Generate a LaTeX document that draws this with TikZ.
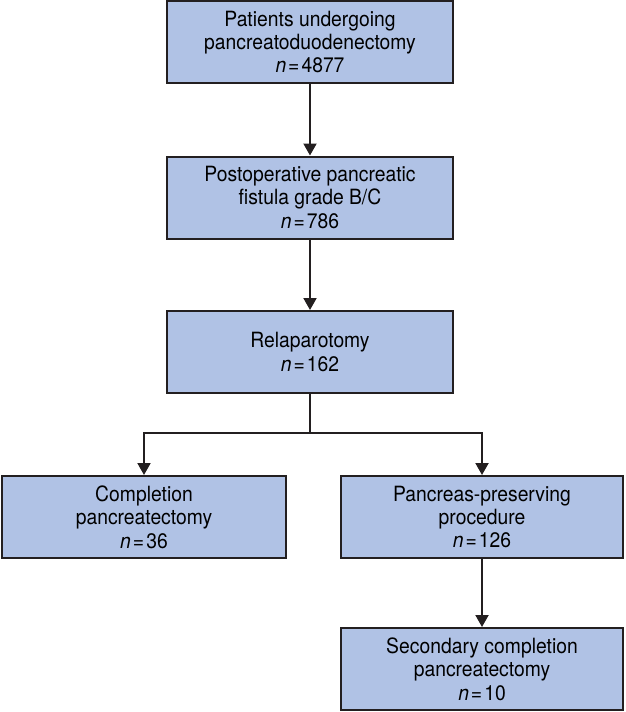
\documentclass[tikz,border=0pt]{standalone}
\usepackage{fontspec}
\setmainfont{TeX Gyre Heros}[FakeStretch=0.92]
\usetikzlibrary{arrows.meta}
\definecolor{boxfill}{RGB}{176,194,229}
\definecolor{boxline}{RGB}{35,31,32}
\tikzset{
  flowbox/.style={draw=boxline, fill=boxfill, line width=1pt, align=center,
    minimum width=143pt, minimum height=41pt, inner sep=0pt,
    font=\fontsize{10.5}{11.7}\selectfont},
  flowline/.style={draw=boxline, line width=1pt},
  >={Triangle[length=6pt,width=6.5pt]}
}
\newcommand{\nval}[1]{\textit{n}\kern1pt=\kern1pt#1}

\begin{document}
\begin{tikzpicture}[x=0.5pt,y=-0.5pt]
	\useasboundingbox (0,0) rectangle (626,712);
	% main column
	\node[flowbox] (patients) at (310,42) {Patients undergoing\\pancreatoduodenectomy\\\nval{4877}};
	\node[flowbox] (fistula) at (310,197.5) {Postoperative pancreatic\\fistula grade B/C\\\nval{786}};
	\node[flowbox] (relap) at (310,352) {Relaparotomy\\\nval{162}};
	% branches
	\node[flowbox, minimum width=142pt] (completion) at (144,517) {Completion\\pancreatectomy\\\nval{36}};
	\node[flowbox, minimum width=141pt] (preserve) at (482,517) {Pancreas-preserving\\procedure\\\nval{126}};
	\node[flowbox, minimum width=141pt] (secondary) at (482,669) {Secondary completion\\pancreatectomy\\\nval{10}};
	\coordinate (split) at (310,433);

	\draw[flowline,->] (patients) -- (fistula);
	\draw[flowline,->] (fistula) -- (relap);
	\draw[flowline] (relap) -- (split);
	\draw[flowline,->] (split) -| (completion);
	\draw[flowline,->] (split) -| (preserve);
	\draw[flowline,->] (preserve) -- (secondary);
\end{tikzpicture}
\end{document}
